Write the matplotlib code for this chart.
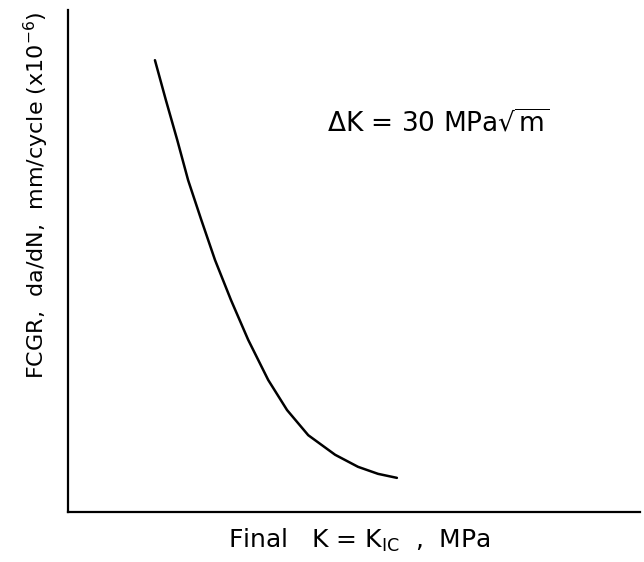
"""Sketch: fatigue crack growth rate vs final K (K_IC)."""
import matplotlib
matplotlib.use("Agg")
import matplotlib.pyplot as plt

# curve (arbitrary 0-100 units on both axes)
final_k = [15.2, 17.1, 19.1, 21.0, 23.3, 25.7, 28.5, 31.5, 35.0, 38.3,
           42.0, 46.7, 50.7, 54.2, 57.5]
fcgr = [90.0, 82.1, 74.1, 66.1, 58.2, 50.2, 42.2, 34.3, 26.3, 20.3,
        15.3, 11.4, 9.0, 7.6, 6.8]

W, H = 644, 562
fig = plt.figure(figsize=(W / 100, H / 100), dpi=100)
ax = fig.add_axes([68 / W, 1 - 512 / H, 572 / W, 502 / H])

ax.plot(final_k, fcgr, color="black", lw=1.8,
        solid_capstyle="round", solid_joinstyle="round")
ax.set_xlim(0, 100)
ax.set_ylim(0, 100)

for side in ("top", "right"):
    ax.spines[side].set_visible(False)
for side in ("left", "bottom"):
    ax.spines[side].set_linewidth(1.6)
ax.set_xticks([])
ax.set_yticks([])

ax.text((327 - 68) / 572, (512 - 124) / 502, r"$\Delta$K = 30 MPa$\sqrt{\mathrm{m}}$",
        transform=ax.transAxes, fontsize=19, va="center", ha="left")

fig.text(228 / W, 1 - 540 / H, r"Final   K = K$_{\mathrm{IC}}$  ,  MPa",
         fontsize=18, va="center", ha="left")
fig.text(36 / W, 1 - 195 / H, r"FCGR,  da/dN,  mm/cycle (x10$^{-6}$)",
         fontsize=16, rotation=90, va="center", ha="center")

fig.savefig("out.png", dpi=100)
